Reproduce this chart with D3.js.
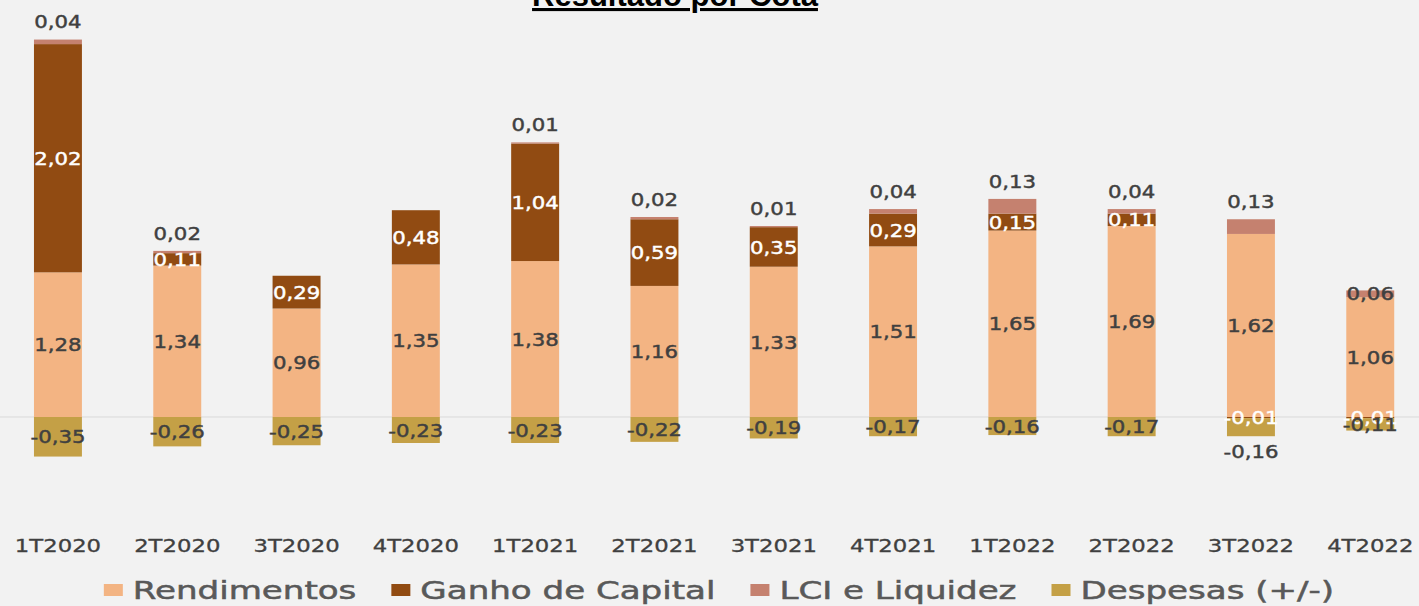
<!DOCTYPE html>
<html>
<head>
<meta charset="utf-8">
<script src="https://cdn.jsdelivr.net/npm/d3@7"></script>
<style>
  html, body { margin: 0; padding: 0; background: #f2f2f2; }
  svg { display: block; }
</style>
</head>
<body>
<svg id="chart" width="1419" height="606"></svg>
<script>
// ---- data ----
const categories = ["1T2020","2T2020","3T2020","4T2020","1T2021","2T2021","3T2021","4T2021","1T2022","2T2022","3T2022","4T2022"];
const rendimentos = [1.28,1.34,0.96,1.35,1.38,1.16,1.33,1.51,1.65,1.69,1.62,1.06];
const ganhoCapital = [2.02,0.11,0.29,0.48,1.04,0.59,0.35,0.29,0.15,0.11,-0.01,-0.01];
const lciLiquidez = [0.04,0.02,null,null,0.01,0.02,0.01,0.04,0.13,0.04,0.13,0.06];
const despesas = [-0.35,-0.26,-0.25,-0.23,-0.23,-0.22,-0.19,-0.17,-0.16,-0.17,-0.16,-0.11];
const seriesNames = ["Rendimentos","Ganho de Capital","LCI e Liquidez","Despesas (+/-)"];
// label placement (style) for LCI and Despesas labels
const lciLabelPos = ["above","above","above","above","above","above","above","above","above","above","above","center"];
const despLabelPos = ["center","center","center","center","center","center","center","center","center","center","below","center"];

const colors = ["#F3B483","#914B12","#C5816F","#C4A046"];
const labelColors = ["#404040","#ffffff","#404040","#404040"];
const W = 1419, H = 606;
const svg = d3.select("#chart");
const font = "DejaVu Sans, sans-serif";

const keys = ["r","g","l","d"];
const table = categories.map((c,i) => ({cat:c, r:rendimentos[i], g:ganhoCapital[i], l:lciLiquidez[i] ?? 0, d:despesas[i], i}));
const series = d3.stack().keys(keys).offset(d3.stackOffsetDiverging)(table);

const x = d3.scaleBand().domain(categories).range([-1.7, 1429.9]).paddingInner(0.598).paddingOuter(0.299);
const y = d3.scaleLinear().domain([-0.5, 3.5]).range([417 + 0.5*113, 417 - 3.5*113]);

// title
svg.append("text")
  .attr("x", 675).attr("y", 6)
  .attr("text-anchor","middle")
  .attr("font-family","Liberation Sans, Arial, sans-serif")
  .attr("font-weight","bold")
  .attr("font-size", 31)
  .attr("text-decoration","underline")
  .attr("fill","#000")
  .text("Resultado por Cota");

// zero line
svg.append("line")
  .attr("x1", 0).attr("x2", W)
  .attr("y1", y(0)).attr("y2", y(0))
  .attr("stroke", "#d9d9d9").attr("stroke-width", 1);

// bars
const g = svg.append("g");
series.forEach((s, si) => {
  g.selectAll(null).data(s).enter().append("rect")
    .attr("x", d => x(d.data.cat))
    .attr("width", x.bandwidth())
    .attr("y", d => y(Math.max(d[0], d[1])))
    .attr("height", d => Math.abs(y(d[0]) - y(d[1])))
    .attr("fill", colors[si]);
});

const fmt = v => v.toFixed(2).replace(".", ",");
const LSX = 1.15;
function addLabel(xc, yc, txt, color) {
  svg.append("text")
    .attr("transform", `translate(${xc},${yc}) scale(${LSX},1)`)
    .attr("dy", "0.36em")
    .attr("text-anchor","middle")
    .attr("font-family", font)
    .attr("font-size", 18.5)
    .attr("fill", color)
    .attr("stroke", color).attr("stroke-width", 0.45)
    .text(txt);
}
const rawVals = [rendimentos, ganhoCapital, lciLiquidez, despesas];
series.forEach((s, si) => {
  s.forEach((d, i) => {
    const v = rawVals[si][i];
    if (v === null || v === undefined) return;
    const xc = x(d.data.cat) + x.bandwidth()/2;
    const top = y(Math.max(d[0], d[1]));
    const bot = y(Math.min(d[0], d[1]));
    let yc = (top + bot) / 2;
    if (si === 2 && lciLabelPos[i] === "above") yc = top - 18;
    if (si === 3 && despLabelPos[i] === "below") yc = bot + 15;
    addLabel(xc, yc, fmt(v), labelColors[si]);
  });
});

// category axis labels
const axis = d3.axisBottom(x).tickSize(0).tickPadding(0);
const ax = svg.append("g").attr("transform", `translate(0, 540)`).call(axis);
ax.select(".domain").remove();
ax.selectAll("text")
  .attr("y", 0)
  .attr("font-family", font)
  .attr("font-size", 17.5)
  .attr("fill", "#404040")
  .attr("stroke", "#404040").attr("stroke-width", 0.3)
  .attr("dy", "0.71em")
  .attr("transform", "scale(1.3,1)");

// legend
const leg = svg.append("g");
const legSX = 1.42, sqW = 19, sqH = 12, sqGap = 10, itemGap = 35;
const items = [];
seriesNames.forEach((n, i) => {
  const it = leg.append("g");
  it.append("rect").attr("x", 0).attr("y", -sqH/2).attr("width", sqW).attr("height", sqH).attr("fill", colors[i]);
  const t = it.append("text")
    .attr("transform", `translate(${sqW + sqGap},0) scale(${legSX},1)`)
    .attr("dy","0.36em")
    .attr("font-family", font).attr("font-size", 24)
    .attr("fill", "#595959").attr("stroke", "#595959").attr("stroke-width", 0.5)
    .text(n);
  const w = sqW + sqGap + t.node().getComputedTextLength() * legSX;
  items.push({it, w});
});
const total = d3.sum(items, d => d.w) + itemGap * (items.length - 1);
let lx = 719 - total / 2;
items.forEach(d => {
  d.it.attr("transform", `translate(${lx}, 590)`);
  lx += d.w + itemGap;
});
</script>
</body>
</html>
